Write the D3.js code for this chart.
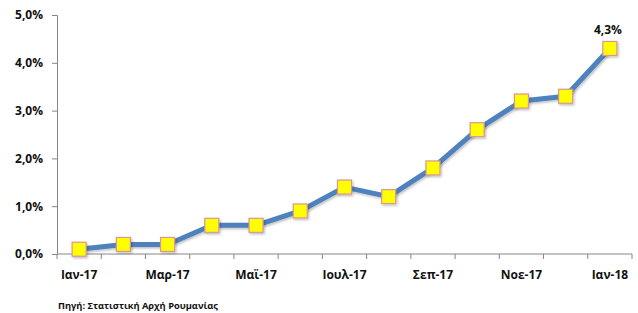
<!DOCTYPE html>
<html><head><meta charset="utf-8">
<script src="https://cdn.jsdelivr.net/npm/d3@7"></script>
<style>body{margin:0;background:#fff}svg{display:block}text{font-family:"Open Sans",sans-serif;font-weight:bold;fill:#111}</style>
</head><body><svg id="c" width="638" height="313"></svg>
<script>
const categories = ["Ιαν-17","Φεβ-17","Μαρ-17","Απρ-17","Μαϊ-17","Ιουν-17","Ιουλ-17","Αυγ-17","Σεπ-17","Οκτ-17","Νοε-17","Δεκ-17","Ιαν-18"];
const values = [0.1,0.2,0.2,0.6,0.6,0.9,1.4,1.2,1.8,2.6,3.2,3.3,4.3];
const yTicks = [0,1,2,3,4,5];
const source = "Πηγή: Στατιστική Αρχή Ρουμανίας";

(function(){
const svg = d3.select("#c");
const pLeft = 57, pRight = 632, pTop = 15, pBottom = 254;
const x = d3.scaleBand().domain(categories).range([pLeft, pRight]);
const y = d3.scaleLinear().domain([0,5]).range([pBottom, pTop]);
const fmt = v => d3.format(".1f")(v).replace(".", ",") + "%";
const axisColor = "#868686";
const ff = "'Open Sans', sans-serif";

// Y axis
const ya = svg.append("g").attr("transform", `translate(${pLeft},0)`)
  .call(d3.axisLeft(y).tickValues(yTicks).tickFormat(fmt).tickSize(5).tickPadding(9));
ya.select(".domain").attr("stroke", axisColor);
ya.selectAll(".tick line").attr("stroke", axisColor);
ya.selectAll(".tick text").attr("font-size", 12).attr("font-family", ff).attr("font-weight", "bold").attr("fill", "#111");

// X axis
const xa = svg.append("g").attr("transform", `translate(0,${pBottom})`)
  .call(d3.axisBottom(x).tickSize(0).tickPadding(16).tickFormat((d,i) => i % 2 === 0 ? d : ""));
xa.select(".domain").attr("stroke", axisColor).attr("d", `M${pLeft},0H${pRight}`);
xa.selectAll(".tick text").attr("font-size", 12).attr("font-family", ff).attr("font-weight", "bold").attr("fill", "#111");
const bounds = d3.range(categories.length + 1).map(i => pLeft + i * x.step());
xa.selectAll(".btick").data(bounds).join("line").attr("class","btick")
  .attr("x1", d => d).attr("x2", d => d).attr("y1", 0).attr("y2", 5).attr("stroke", axisColor);

// Shadow filter
const defs = svg.append("defs");
const f = defs.append("filter").attr("id","sh").attr("x","-50%").attr("y","-50%").attr("width","200%").attr("height","200%");
f.append("feDropShadow").attr("dx",1.2).attr("dy",1.5).attr("stdDeviation",1).attr("flood-color","#000").attr("flood-opacity",0.25);

// Line
const cx = d => x(d) + x.bandwidth()/2;
const line = d3.line().x((d,i) => cx(categories[i])).y(d => y(d));
svg.append("path").datum(values).attr("d", line).attr("fill","none")
  .attr("stroke","#4F81BD").attr("stroke-width",5).attr("stroke-linejoin","round").attr("filter","url(#sh)");

// Markers
const s = 14;
svg.selectAll(".m").data(values).join("rect").attr("class","m")
  .attr("x",(d,i) => cx(categories[i]) - s/2).attr("y", d => y(d) - s/2)
  .attr("width", s).attr("height", s).attr("fill","#FFFF00")
  .attr("stroke","#D99694").attr("stroke-width",1.2).attr("filter","url(#sh)");

// Data label for last point
const li = values.length - 1;
svg.append("text").attr("x", cx(categories[li]) - 2).attr("y", y(values[li]) - 14)
  .attr("text-anchor","middle").attr("font-size", 12).text(fmt(values[li]));

// Source
svg.append("text").attr("x", 58).attr("y", 309).attr("font-size", 9.3).text(source);
})();
</script></body></html>
